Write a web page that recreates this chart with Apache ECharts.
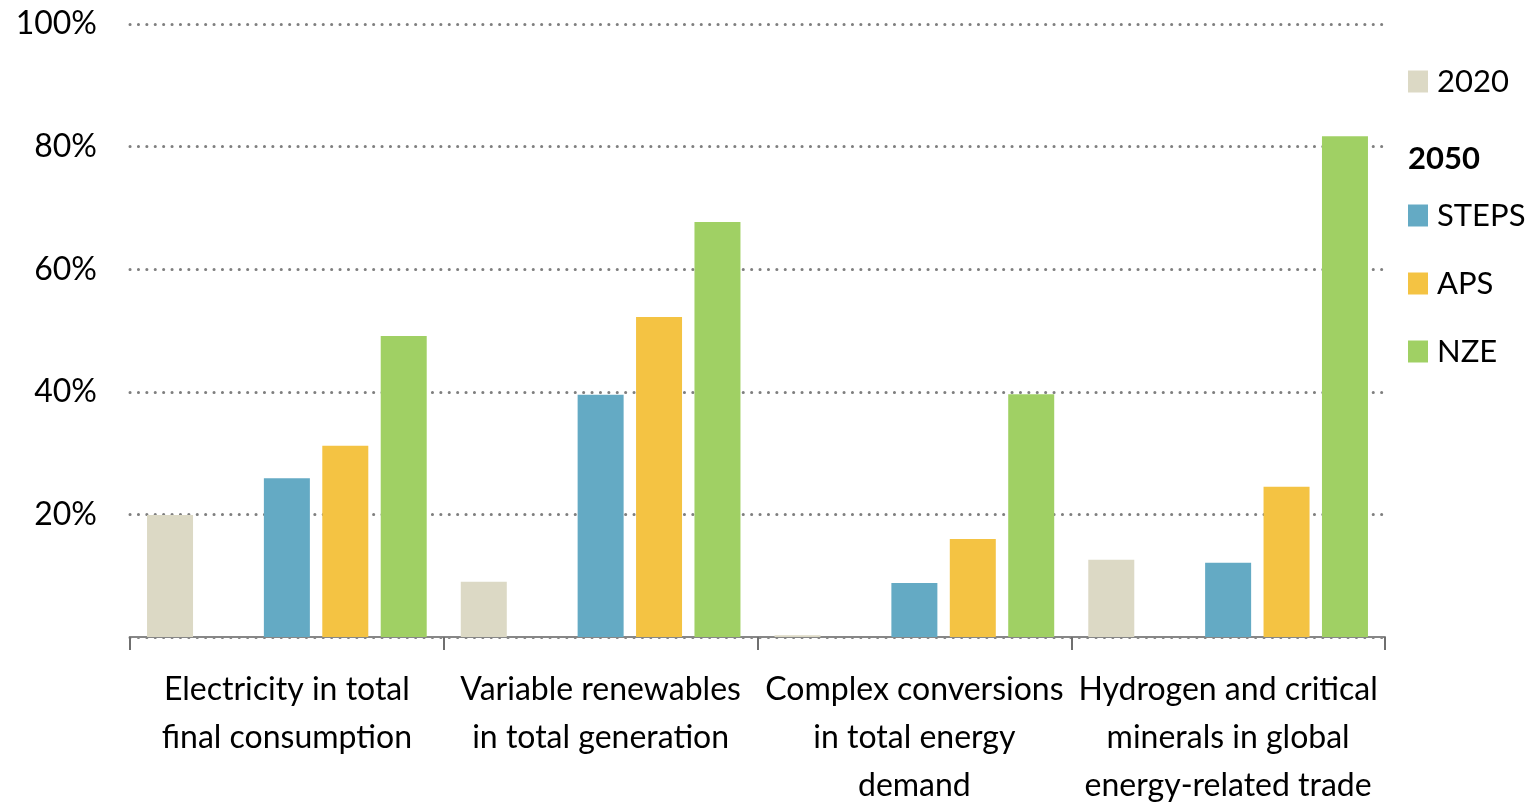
<!DOCTYPE html>
<html>
<head>
<meta charset="utf-8">
<script src="https://cdn.jsdelivr.net/npm/echarts@6/dist/echarts.min.js"></script>
<style>
html,body{margin:0;padding:0;background:#fff;}
#chart{width:1539px;height:803px;}
</style>
</head>
<body>
<div id="chart"></div>
<script>
const categories = [
  "Electricity in total\nfinal consumption",
  "Variable renewables\nin total generation",
  "Complex conversions\nin total energy\ndemand",
  "Hydrogen and critical\nminerals in global\nenergy-related trade"
];
const values2020 = [19.9, 9.0, 0.3, 12.6];
const valuesSTEPS = [25.9, 39.5, 8.8, 12.1];
const valuesAPS = [31.2, 52.2, 16.0, 24.5];
const valuesNZE = [49.1, 67.7, 39.6, 81.7];
const yTicks = [0, 20, 40, 60, 80, 100];

const FONT = 'Lato';
const chart = echarts.init(document.getElementById('chart'));
const barBase = { type: 'bar', barWidth: 46, barGap: '27%', barCategoryGap: '10.8%' };
chart.setOption({
  animation: false,
  textStyle: { fontFamily: FONT },
  grid: { left: 130, right: 154, top: 24, bottom: 166, outerBoundsMode: 'none', containLabel: false },
  legend: [
    { data: ['2020'], orient: 'vertical', left: 1403, top: 61, itemWidth: 20, itemHeight: 22, icon: 'rect',
      textStyle: { fontSize: 31, color: '#000', fontFamily: FONT, padding: [0,0,0,4] } },
    { data: [{ name: '2050', icon: 'none' }], orient: 'vertical', left: 1378, top: 138, itemWidth: 20, itemHeight: 22,
      selectedMode: false,
      textStyle: { fontSize: 31, color: '#000', fontWeight: 'bold', fontFamily: FONT } },
    { data: ['STEPS', 'APS', 'NZE'], orient: 'vertical', left: 1403, top: 195, itemWidth: 20, itemHeight: 22, itemGap: 37, icon: 'rect',
      textStyle: { fontSize: 31, color: '#000', fontFamily: FONT, padding: [0,0,0,4] } }
  ],
  xAxis: {
    type: 'category',
    data: categories,
    axisLine: { lineStyle: { color: '#878787', width: 2 } },
    axisTick: { show: true, interval: 0, length: 13, lineStyle: { color: '#6f6f6f', width: 2 } },
    axisLabel: { interval: 0, fontSize: 32, color: '#000', lineHeight: 48, margin: 29, fontFamily: FONT }
  },
  yAxis: {
    type: 'value', min: 0, max: 100, interval: 20,
    axisLine: { show: false }, axisTick: { show: false },
    axisLabel: { fontSize: 32, color: '#000', margin: 33, fontFamily: FONT,
      formatter: v => (yTicks.indexOf(v) > 0 ? v + '%' : '') },
    splitLine: { show: true, lineStyle: { color: '#7f7f7f', width: 3, type: [0.1, 8.3], cap: 'round' } }
  },
  series: [
    Object.assign({ name: '2020', data: values2020, itemStyle: { color: '#dcd9c5' } }, barBase),
    Object.assign({ name: '2050', data: [], itemStyle: { color: '#000' } }, barBase),
    Object.assign({ name: 'STEPS', data: valuesSTEPS, itemStyle: { color: '#64aac4' } }, barBase),
    Object.assign({ name: 'APS', data: valuesAPS, itemStyle: { color: '#f4c343' } }, barBase),
    Object.assign({ name: 'NZE', data: valuesNZE, itemStyle: { color: '#a0d064' } }, barBase)
  ]
});
</script>
</body>
</html>
